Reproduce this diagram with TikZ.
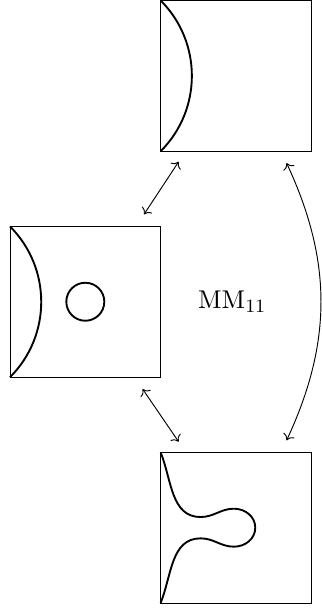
\documentclass[tikz,border=0pt]{standalone}
\usepackage{amsmath}
\usetikzlibrary{arrows.meta,positioning}
\tikzset{
  cell/.style  = {draw, rectangle, minimum size=2.26cm, inner sep=0pt,
                  outer sep=0pt},
  wall/.style  = {thick},
  link/.style  = {<->},
}

\begin{document}
\begin{tikzpicture}[x=1cm,y=1cm]
\node[cell] (mid) {};
\node[cell, above right=1.13cm and 0cm of mid] (top) {};
\node[cell, below right=1.13cm and 0cm of mid] (bot) {};
\node[right=0.44cm of mid, font=\fontsize{10.8pt}{13pt}\selectfont] (lbl)
  {$\mathrm{MM}_{11}$};
\useasboundingbox ([xshift=-0.15cm]mid.west |- bot.south) ++(0,-0.075)
  rectangle ([xshift=0.15cm,yshift=-0.015cm]top.north east);
% boundary pieces inside the cells
\draw[wall] (top.north west) arc[start angle=45, end angle=-45, radius=1.6];
\draw[wall] (mid.north west) arc[start angle=45, end angle=-45, radius=1.6];
\draw[wall] (mid.center) circle[radius=0.285];
\draw[wall] (bot.north west) to[out=-68,in=180] ++(0.6,-0.97)
  to[out=0,in=180] ++(0.5,0.125) to[out=0,in=90] ++(0.32,-0.285)
  to[out=-90,in=0] ++(-0.32,-0.285) to[out=180,in=0] ++(-0.5,0.125)
  to[out=180,in=68] (bot.south west);
% moves between the cells
\draw[link] ([shift={(0.27,-0.16)}]top.south west)
  -- ([shift={(-0.25,0.18)}]mid.north east);
\draw[link] ([shift={(-0.27,-0.18)}]mid.south east)
  -- ([shift={(0.27,0.16)}]bot.north west);
\draw[link] ([shift={(-0.37,-0.18)}]top.south east) to[bend left=25]
  ([shift={(-0.37,0.18)}]bot.north east);
\end{tikzpicture}
\end{document}
